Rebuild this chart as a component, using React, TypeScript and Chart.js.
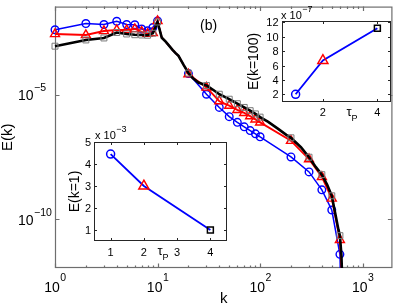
import React, { useEffect, useRef } from 'react';
import { Chart, registerables } from 'chart.js';
Chart.register(...registerables);

const W = 399;
const H = 305;
const FONT = '"Liberation Sans", Arial, Helvetica, sans-serif';

// ---------- main plot data (log10 of E(k)) ----------
const markerK = [1, 2, 3, 4, 5, 6, 7, 8, 9, 10, 20, 30, 40, 50, 60, 70, 80, 90, 100, 200, 300, 400, 500, 600];

const blueK = [1, 2, 3, 4, 5, 6, 7, 8, 9, 10, 11, 12, 13, 14, 15, 16, 17, 18, 19, 20, 30, 40, 50, 60, 70, 80, 90, 100, 200, 300, 400, 500, 600, 615];
const blueLogE = [-2.38, -2.13, -2.17, -2.04, -2.17, -2.18, -2.35, -2.42, -2.29, -2.03, -2.7, -2.86, -3.03, -3.19, -3.32, -3.43, -3.62, -3.8, -3.96, -4.14, -4.97, -5.5, -5.87, -6.1, -6.28, -6.43, -6.56, -6.68, -7.49, -8.09, -8.81, -9.62, -11.4, -13.0];

const redK = [1, 2, 3, 4, 5, 6, 7, 8, 9, 10, 11, 12, 13, 14, 15, 16, 17, 18, 19, 20, 30, 40, 50, 60, 70, 80, 90, 100, 200, 300, 400, 500, 600, 640];
const redLogE = [-2.55, -2.59, -2.43, -2.39, -2.39, -2.35, -2.46, -2.54, -2.51, -2.03, -2.7, -2.86, -3.03, -3.19, -3.32, -3.43, -3.62, -3.8, -3.96, -4.17, -4.7, -5.25, -5.43, -5.6, -5.72, -5.85, -5.98, -6.1, -6.84, -7.58, -8.29, -9.16, -10.82, -13.0];

const blackK = [1, 2, 3, 4, 5, 6, 7, 8, 9, 10, 11, 12, 13, 14, 15, 16, 17, 18, 19, 20, 22, 25, 30, 35, 40, 50, 60, 70, 80, 90, 100, 120, 150, 180, 200, 250, 300, 350, 400, 450, 500, 540, 580, 600, 620, 640];
const blackLogE = [-3.04, -2.79, -2.71, -2.49, -2.55, -2.58, -2.59, -2.6, -2.52, -2.07, -2.7, -2.86, -3.03, -3.19, -3.32, -3.43, -3.62, -3.8, -3.96, -4.12, -4.32, -4.5, -4.62, -4.8, -4.97, -5.17, -5.35, -5.5, -5.63, -5.76, -5.89, -6.08, -6.36, -6.6, -6.72, -7.1, -7.5, -7.9, -8.2, -8.6, -9.05, -9.75, -10.4, -10.65, -11.4, -13.0];

const xDecadeExps = [0, 1, 2, 3];
const yLabelExps = [-5, -10];
const mainXRange = [1, 1950];
const mainYExpRange = [-11.95, -1.45];

// ---------- insets ----------
const tauP = [1, 2, 4];
const inset1E = [4.45, 3.0, 1.0];
const inset2E = [2.0, 6.7, 11.2];
const inset1XTicks = [1, 2, 3, 4];
const inset1YTicks = [1, 2, 3, 4, 5];
const inset2XTicks = [2, 4];
const inset2YTicks = [2, 4, 6, 8, 10, 12];

function font(size: number) {
  return `${size}px ${FONT}`;
}

function text(ctx: any, s: string, x: number, y: number, size: number, align: any = 'left', baseline: any = 'alphabetic') {
  ctx.font = font(size);
  ctx.textAlign = align;
  ctx.textBaseline = baseline;
  ctx.fillText(s, x, y);
}

function drawPowCentered(ctx: any, base: string, exp: string, cx: number, y: number, bs: number, es: number, rise: number) {
  ctx.font = font(bs);
  const wb = ctx.measureText(base).width;
  ctx.font = font(es);
  const we = ctx.measureText(exp).width;
  const x0 = cx - (wb + we) / 2;
  text(ctx, base, x0, y, bs);
  text(ctx, exp, x0 + wb + 0.5, y - rise, es);
}

const mainDecor = {
  id: 'mainDecor',
  beforeDatasetsDraw(chart: any) {
    const { ctx, chartArea: a, scales } = chart;
    const x = scales.x;
    const y = scales.y;
    ctx.save();
    ctx.strokeStyle = '#6e6e6e';
    ctx.lineWidth = 1.2;
    ctx.beginPath();
    for (let e = 0; e <= 3; e++) {
      for (let m = 1; m <= 9; m++) {
        const v = m * Math.pow(10, e);
        if (v > mainXRange[1]) continue;
        const px = Math.round(x.getPixelForValue(v)) + 0.5;
        const len = m === 1 ? 4.5 : 2.5;
        ctx.moveTo(px, a.bottom);
        ctx.lineTo(px, a.bottom - len);
        ctx.moveTo(px, a.top);
        ctx.lineTo(px, a.top + len);
      }
    }
    for (const e of yLabelExps) {
      const py = Math.round(y.getPixelForValue(Math.pow(10, e))) + 0.5;
      ctx.moveTo(a.left, py);
      ctx.lineTo(a.left + 4.5, py);
      ctx.moveTo(a.right, py);
      ctx.lineTo(a.right - 4.5, py);
    }
    ctx.stroke();
    ctx.strokeRect(a.left + 0.5, a.top + 0.5, a.right - a.left - 1, a.bottom - a.top - 1);

    ctx.fillStyle = '#000';
    for (const e of xDecadeExps) {
      const px = x.getPixelForValue(Math.pow(10, e));
      drawPowCentered(ctx, '10', String(e), px, 291.5, 14, 10.5, 11);
    }
    for (const e of yLabelExps) {
      const py = y.getPixelForValue(Math.pow(10, e));
      text(ctx, '10', 33.5, py + 5.5, 14, 'right');
      text(ctx, '\u2212' + String(-e), 34, py - 3.5, 10.5, 'left');
    }
    text(ctx, 'k', (a.left + a.right) / 2, 303, 15, 'center');
    ctx.save();
    ctx.translate(8, (a.top + a.bottom) / 2);
    ctx.rotate(-Math.PI / 2);
    text(ctx, 'E(k)', 0, 0, 15, 'center', 'middle');
    ctx.restore();
    text(ctx, '(b)', 200, 30, 14, 'left');
    ctx.restore();
  },
};

function insetDecor(cfg: any) {
  return {
    id: 'insetDecor',
    beforeDatasetsDraw(chart: any) {
      const { ctx, chartArea: a, scales } = chart;
      const x = scales.x;
      const y = scales.y;
      ctx.save();
      ctx.fillStyle = '#fff';
      ctx.fillRect(a.left, a.top, a.right - a.left, a.bottom - a.top);
      ctx.strokeStyle = '#262626';
      ctx.lineWidth = 1;
      ctx.beginPath();
      for (const t of cfg.xTicks) {
        const px = Math.round(x.getPixelForValue(t)) + 0.5;
        ctx.moveTo(px, a.bottom);
        ctx.lineTo(px, a.bottom - 3);
        ctx.moveTo(px, a.top);
        ctx.lineTo(px, a.top + 3);
      }
      for (const t of cfg.yTicks) {
        const py = Math.round(y.getPixelForValue(t)) + 0.5;
        ctx.moveTo(a.left, py);
        ctx.lineTo(a.left + 3, py);
        ctx.moveTo(a.right, py);
        ctx.lineTo(a.right - 3, py);
      }
      ctx.stroke();
      ctx.strokeRect(a.left + 0.5, a.top + 0.5, a.right - a.left - 1, a.bottom - a.top - 1);

      ctx.fillStyle = '#000';
      for (const t of cfg.xTicks) {
        text(ctx, String(t), x.getPixelForValue(t), cfg.xLabelBase, 11, 'center');
      }
      for (const t of cfg.yTicks) {
        text(ctx, String(t), cfg.yLabelRight, y.getPixelForValue(t) + 4, 11, 'right');
      }
      text(ctx, 'x 10', cfg.mult.x, cfg.mult.y, 11, 'left');
      ctx.font = font(11);
      const w = ctx.measureText('x 10').width;
      text(ctx, cfg.mult.exp, cfg.mult.x + w + 0.5, cfg.mult.y - 6.5, 9, 'left');
      ctx.font = font(13);
      const wt = ctx.measureText('\u03c4').width;
      ctx.font = font(9);
      const wp = ctx.measureText('P').width;
      const x0 = cfg.tau.x - (wt + wp) / 2;
      text(ctx, '\u03c4', x0, cfg.tau.y, 13, 'left');
      text(ctx, 'P', x0 + wt, cfg.tau.y + 4.5, 9, 'left');
      ctx.save();
      ctx.translate(cfg.ylab.x, (a.top + a.bottom) / 2);
      ctx.rotate(-Math.PI / 2);
      text(ctx, cfg.ylab.text, 0, 0, 14, 'center', 'middle');
      ctx.restore();
      ctx.restore();
    },
  };
}

const pts = (ks: number[], es: number[]) => ks.map((k, i) => ({ x: k, y: Math.pow(10, es[i]) }));
const radii = (ks: number[], r: number) => ks.map((k) => (markerK.includes(k) ? r : 0));
const CLIP = { left: 8, top: 8, right: 0, bottom: 0 };
const CLEAR = 'rgba(0,0,0,0)';

function mainConfig(): any {
  return {
    type: 'scatter',
    data: {
      datasets: [
        {
          data: pts(blackK, blackLogE),
          showLine: true,
          borderColor: '#000000',
          borderWidth: 2.6,
          pointStyle: 'rect',
          pointRadius: radii(blackK, 4.2),
          pointBorderColor: '#7a7a7a',
          pointBackgroundColor: CLEAR,
          pointBorderWidth: 1,
          order: 0,
          clip: CLIP,
        },
        {
          data: pts(redK, redLogE),
          showLine: true,
          borderColor: '#ff0000',
          borderWidth: 1.8,
          pointStyle: 'triangle',
          pointRadius: radii(redK, 5.2),
          pointBorderColor: '#ff0000',
          pointBackgroundColor: CLEAR,
          pointBorderWidth: 1.4,
          order: 1,
          clip: CLIP,
        },
        {
          data: pts(blueK, blueLogE),
          showLine: true,
          borderColor: '#0000ff',
          borderWidth: 1.5,
          pointStyle: 'circle',
          pointRadius: radii(blueK, 3.8),
          pointBorderColor: '#0000ff',
          pointBackgroundColor: CLEAR,
          pointBorderWidth: 1.4,
          order: 2,
          clip: CLIP,
        },
      ],
    },
    options: {
      responsive: false,
      animation: false,
      devicePixelRatio: 1,
      events: [],
      layout: { padding: { left: 55, right: 1, top: 0, bottom: 37 } },
      scales: {
        x: { type: 'logarithmic', min: mainXRange[0], max: mainXRange[1], display: false },
        y: { type: 'logarithmic', min: Math.pow(10, mainYExpRange[0]), max: Math.pow(10, mainYExpRange[1]), display: false },
      },
      plugins: { legend: { display: false }, tooltip: { enabled: false } },
    },
    plugins: [mainDecor],
  };
}

function insetConfig(vals: number[], box: any, yRange: number[], decor: any): any {
  return {
    type: 'scatter',
    data: {
      datasets: [
        {
          data: tauP.map((t, i) => ({ x: t, y: vals[i] })),
          showLine: true,
          borderColor: '#0000ff',
          borderWidth: 1.8,
          pointStyle: ['circle', 'triangle', 'rect'],
          pointRadius: [4, 5.8, 4.2],
          pointBorderColor: ['#0000ff', '#ff0000', '#000000'],
          pointBackgroundColor: CLEAR,
          pointBorderWidth: 1.5,
          clip: false,
        },
      ],
    },
    options: {
      responsive: false,
      animation: false,
      devicePixelRatio: 1,
      events: [],
      layout: { padding: { left: box.left, top: box.top, right: W - box.right, bottom: H - box.bottom } },
      scales: {
        x: { type: 'linear', min: 0.5, max: 4.5, display: false },
        y: { type: 'linear', min: yRange[0], max: yRange[1], display: false },
      },
      plugins: { legend: { display: false }, tooltip: { enabled: false } },
    },
    plugins: [decor],
  };
}

export default function App() {
  const mainRef = useRef<HTMLCanvasElement>(null);
  const in1Ref = useRef<HTMLCanvasElement>(null);
  const in2Ref = useRef<HTMLCanvasElement>(null);

  useEffect(() => {
    const charts: Chart[] = [];
    charts.push(new Chart(mainRef.current as any, mainConfig()));
    charts.push(
      new Chart(
        in1Ref.current as any,
        insetConfig(
          inset1E,
          { left: 94, top: 142, right: 227, bottom: 241 },
          [0.5, 5],
          insetDecor({
            xTicks: inset1XTicks,
            yTicks: inset1YTicks,
            xLabelBase: 256,
            yLabelRight: 91,
            mult: { x: 95, y: 138.5, exp: '\u22123' },
            tau: { x: 163, y: 255 },
            ylab: { text: 'E(k=1)', x: 75 },
          })
        )
      )
    );
    charts.push(
      new Chart(
        in2Ref.current as any,
        insetConfig(
          inset2E,
          { left: 282, top: 21, right: 391, bottom: 102 },
          [0.93, 12.2],
          insetDecor({
            xTicks: inset2XTicks,
            yTicks: inset2YTicks,
            xLabelBase: 116,
            yLabelRight: 278.5,
            mult: { x: 281, y: 18.5, exp: '\u22127' },
            tau: { x: 352, y: 116 },
            ylab: { text: 'E(k=100)', x: 254 },
          })
        )
      )
    );
    return () => charts.forEach((c) => c.destroy());
  }, []);

  const cs: any = { position: 'absolute', left: 0, top: 0, width: W, height: H };
  return (
    <div style={{ position: 'absolute', left: 0, top: 0, width: W, height: H, background: '#fff' }}>
      <canvas ref={mainRef} width={W} height={H} style={cs} />
      <canvas ref={in1Ref} width={W} height={H} style={cs} />
      <canvas ref={in2Ref} width={W} height={H} style={cs} />
    </div>
  );
}
